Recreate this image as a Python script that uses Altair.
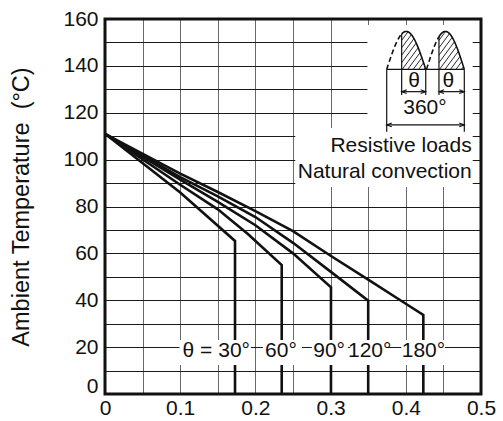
import altair as alt
import pandas as pd
import numpy as np

# ---------------- data ----------------
series_names = ["30°", "60°", "90°", "120°", "180°"]
c30_x = [0, 0.1, 0.1729, 0.1729]
c30_y = [111, 86, 65.3, 0]
c60_x = [0, 0.1, 0.15, 0.19, 0.235, 0.235]
c60_y = [111, 89.3, 78.8, 68.3, 55, 0]
c90_x = [0, 0.1, 0.15, 0.2, 0.25, 0.3005, 0.3005]
c90_y = [111, 91.5, 82, 72, 60, 45.5, 0]
c120_x = [0, 0.1, 0.15, 0.2, 0.25, 0.3, 0.35, 0.35]
c120_y = [111, 92.5, 84.3, 75.5, 64.5, 52.2, 39.8, 0]
c180_x = [0, 0.1, 0.15, 0.2, 0.25, 0.3, 0.35, 0.4, 0.4233, 0.4233]
c180_y = [111, 94, 86.2, 78, 69.5, 59, 48.8, 38.5, 33.7, 0]

label_text = ["θ = 30°", "60°", "90°", "120°", "180°"]
label_x = [0.148, 0.234, 0.298, 0.352, 0.4235]
label_y = [18.5, 18.5, 18.5, 18.5, 18.5]
label_box_x1 = [0.099, 0.210, 0.275, 0.326, 0.394]
label_box_x2 = [0.194, 0.262, 0.323, 0.375, 0.452]
label_box_y1 = [12.4, 12.4, 12.4, 12.4, 12.4]
label_box_y2 = [23.0, 23.0, 23.0, 23.0, 23.0]

x_ticks = [round(i * 0.05, 2) for i in range(11)]
y_ticks = list(range(0, 161, 10))
x_domain = [0, 0.5]
y_domain = [0, 160]
y_title = "Ambient Temperature\u00a0\u00a0(°C)"

note_text = ["Resistive loads", "Natural convection"]
note_x = [0.4876, 0.4876]
note_y = [105.9, 94.8]

# inset (waveform sketch) geometry, in chart units
box_x1 = [0.349, 0.253]
box_x2 = [0.489, 0.489]
box_y1 = [113.5, 88.3]
box_y2 = [157.4, 113.5]
hump_start = [0.3746, 0.4275]
hump_end = [0.4265, 0.4778]
hatch_start = [0.3945, 0.4441]
base_y = 138.5
peak_h = 16.2
theta_arrow_y = 129.0
theta_tick_bottom = 127.6
full_arrow_y = 114.8
full_tick_bottom = 111.9
theta_lbl_x = [0.411, 0.4565]
theta_lbl_y = [133.7, 133.7]
deg_lbl_x = [0.4255]
deg_lbl_y = [121.9]

W, H = 376, 375
FONT = "Liberation Sans"
INK = "#111111"
FS = 21

xs = alt.Scale(domain=x_domain, nice=False, zero=False)
ys = alt.Scale(domain=y_domain, nice=False, zero=False)

x_axis = alt.Axis(
    values=x_ticks,
    labelExpr="round(datum.value*100) % 10 == 0 ? format(datum.value, '.1~f') : ''",
    grid=True, gridColor="#6a6a6a", gridWidth=1, ticks=False, domain=False,
    labelFont=FONT, labelFontSize=FS, labelColor=INK, labelPadding=3,
    labelFlush=False, labelOverlap=False, title=None,
)
y_axis = alt.Axis(
    values=y_ticks,
    labelExpr="datum.value % 20 == 0 ? datum.label : ''",
    grid=True, gridColor="#1a1a1a", gridWidth=1, ticks=False, domain=False,
    labelFont=FONT, labelFontSize=FS, labelColor=INK, labelPadding=7,
    labelFlush=False, labelOverlap=False,
    labelOffset={"condition": {"test": "datum.value == 0", "value": -8}, "value": 0},
    title=y_title, titleFont=FONT, titleFontSize=23.5,
    titleFontWeight="normal", titleColor=INK, titlePadding=29,
)

def X(field):
    return alt.X(field, type="quantitative", scale=xs, axis=x_axis)

def Y(field):
    return alt.Y(field, type="quantitative", scale=ys, axis=y_axis)

# ---------------- curves ----------------
rows = []
for name, cx, cy in zip(series_names, [c30_x, c60_x, c90_x, c120_x, c180_x],
                        [c30_y, c60_y, c90_y, c120_y, c180_y]):
    for i, (a, b) in enumerate(zip(cx, cy)):
        rows.append({"s": name, "i": i, "x": a, "y": b})
curves_df = pd.DataFrame(rows)

curves = alt.Chart(curves_df).mark_line(color=INK, strokeWidth=2.6, strokeJoin="miter").encode(
    x=X("x"), y=Y("y"), detail="s:N", order="i:Q")

lbl_box_df = pd.DataFrame({"x": label_box_x1, "x2": label_box_x2, "y": label_box_y1, "y2": label_box_y2})
lbl_boxes = alt.Chart(lbl_box_df).mark_rect(color="white").encode(
    x=X("x"), x2="x2", y=Y("y"), y2="y2")

lbl_df = pd.DataFrame({"t": label_text, "x": label_x, "y": label_y})
labels = alt.Chart(lbl_df).mark_text(font=FONT, fontSize=FS, color=INK, baseline="middle", align="center").encode(
    x=X("x"), y=Y("y"), text="t:N")

box_df = pd.DataFrame({"x": box_x1, "x2": box_x2, "y": box_y1, "y2": box_y2})
boxes = alt.Chart(box_df).mark_rect(color="white").encode(
    x=X("x"), x2="x2", y=Y("y"), y2="y2")

note_df = pd.DataFrame({"t": note_text, "x": note_x, "y": note_y})
notes = alt.Chart(note_df).mark_text(font=FONT, fontSize=FS, color=INK, align="right", baseline="middle").encode(
    x=X("x"), y=Y("y"), text="t:N")

# ---------------- inset waveform ----------------
sx = W / (x_domain[1] - x_domain[0])
sy = H / (y_domain[1] - y_domain[0])

dash_rows, solid_rows = [], []
hatch_rows = []
for k, (a, b, hs) in enumerate(zip(hump_start, hump_end, hatch_start)):
    xx = np.linspace(a, b, 80)
    yy = base_y + peak_h * np.sin(np.pi * (xx - a) / (b - a))
    for i, (u, v) in enumerate(zip(xx, yy)):
        if u <= hs:
            dash_rows.append({"s": k, "i": i, "x": u, "y": v})
        else:
            solid_rows.append({"s": k, "i": i, "x": u, "y": v})
    hs_y = base_y + peak_h * np.sin(np.pi * (hs - a) / (b - a))
    solid_rows.append({"s": k, "i": -1, "x": hs, "y": hs_y})
    Xs, Xe = hs * sx, b * sx
    Xg = np.linspace(Xs, Xe, 400)
    Hg = peak_h * sy * np.sin(np.pi * (Xg / sx - a) / (b - a))
    m = 1.35
    for kk in np.arange(Xs - 60, Xe, 5.5):
        h = m * (Xg - kk)
        ok = (h >= 0) & (h <= Hg)
        if ok.sum() < 2:
            continue
        idx = np.where(ok)[0]
        i0, i1 = idx[0], idx[-1]
        hatch_rows.append({"x": Xg[i0] / sx, "y": base_y + h[i0] / sy,
                           "x2": Xg[i1] / sx, "y2": base_y + h[i1] / sy})

dash_df = pd.DataFrame(dash_rows)
solid_df = pd.DataFrame(solid_rows)
hatch_df = pd.DataFrame(hatch_rows)

hump_dash = alt.Chart(dash_df).mark_line(color=INK, strokeWidth=1.6, strokeDash=[5, 3]).encode(
    x=X("x"), y=Y("y"), detail="s:N", order="i:Q")
hump_solid = alt.Chart(solid_df).mark_line(color=INK, strokeWidth=1.6).encode(
    x=X("x"), y=Y("y"), detail="s:N", order="i:Q")
hatch = alt.Chart(hatch_df).mark_rule(color=INK, strokeWidth=0.9).encode(
    x=X("x"), y=Y("y"), x2="x2", y2="y2")

rule_rows = [
    {"x": hump_start[0], "x2": hump_end[1], "y": base_y, "y2": base_y},
    {"x": hatch_start[0], "x2": hatch_start[0], "y": base_y, "y2": theta_tick_bottom},
    {"x": hump_end[0], "x2": hump_end[0], "y": base_y, "y2": theta_tick_bottom},
    {"x": hatch_start[1], "x2": hatch_start[1], "y": base_y, "y2": theta_tick_bottom},
    {"x": hump_start[0], "x2": hump_start[0], "y": base_y, "y2": full_tick_bottom},
    {"x": hump_end[1], "x2": hump_end[1], "y": base_y, "y2": full_tick_bottom},
    {"x": hatch_start[0], "x2": hump_end[0], "y": theta_arrow_y, "y2": theta_arrow_y},
    {"x": hatch_start[1], "x2": hump_end[1], "y": theta_arrow_y, "y2": theta_arrow_y},
    {"x": hump_start[0], "x2": hump_end[1], "y": full_arrow_y, "y2": full_arrow_y},
]
for a, b, hs in zip(hump_start, hump_end, hatch_start):
    rule_rows.append({"x": hs, "x2": hs, "y": base_y,
                      "y2": base_y + peak_h * np.sin(np.pi * (hs - a) / (b - a))})
rule_df = pd.DataFrame(rule_rows)
rules = alt.Chart(rule_df).mark_rule(color=INK, strokeWidth=1.2).encode(
    x=X("x"), y=Y("y"), x2="x2", y2="y2")

left_heads = pd.DataFrame({"x": [hatch_start[0], hatch_start[1], hump_start[0]],
                           "y": [theta_arrow_y, theta_arrow_y, full_arrow_y]})
right_heads = pd.DataFrame({"x": [hump_end[0], hump_end[1], hump_end[1]],
                            "y": [theta_arrow_y, theta_arrow_y, full_arrow_y]})
lh = alt.Chart(left_heads).mark_point(shape="M 1.6 -0.6 L 0 0 L 1.6 0.6", filled=False, color=INK,
                                       strokeWidth=1.1, size=40, opacity=1).encode(x=X("x"), y=Y("y"))
rh = alt.Chart(right_heads).mark_point(shape="M -1.6 -0.6 L 0 0 L -1.6 0.6", filled=False, color=INK,
                                        strokeWidth=1.1, size=40, opacity=1).encode(x=X("x"), y=Y("y"))

theta_df = pd.DataFrame({"t": ["θ", "θ"], "x": theta_lbl_x, "y": theta_lbl_y})
theta_txt = alt.Chart(theta_df).mark_text(font=FONT, fontSize=FS, color=INK, baseline="middle").encode(
    x=X("x"), y=Y("y"), text="t:N")
deg_df = pd.DataFrame({"t": ["360°"], "x": deg_lbl_x, "y": deg_lbl_y})
deg_txt = alt.Chart(deg_df).mark_text(font=FONT, fontSize=FS, color=INK, baseline="middle").encode(
    x=X("x"), y=Y("y"), text="t:N")

frame_df = pd.DataFrame({"x": [x_domain[0]], "x2": [x_domain[1]], "y": [y_domain[0]], "y2": [y_domain[1]]})
frame = alt.Chart(frame_df).mark_rect(fillOpacity=0, stroke=INK, strokeWidth=3).encode(
    x=X("x"), x2="x2", y=Y("y"), y2="y2")

chart = alt.layer(
    curves, lbl_boxes, labels, boxes, notes,
    hatch, hump_dash, hump_solid, rules, lh, rh, theta_txt, deg_txt, frame,
).properties(
    width=W, height=H,
    autosize=alt.AutoSizeParams(type="none"),
    padding={"left": 105, "top": 19, "right": 22, "bottom": 27},
).configure_view(stroke=None).configure(background="white")

chart.save("out.html", embed_options={"renderer": "svg", "actions": False})
